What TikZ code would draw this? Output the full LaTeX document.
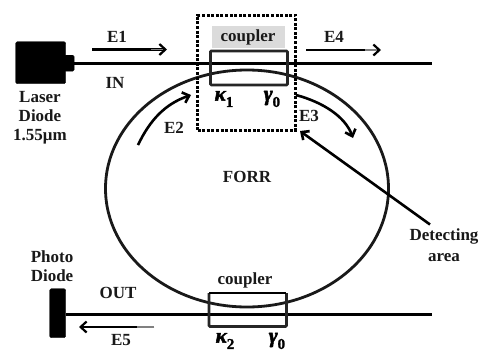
\documentclass[tikz,border=0pt]{standalone}
\usepackage{fontspec}
\setmainfont{Liberation Serif}
\newfontfamily\symf[BoldItalicFeatures={FakeBold=2.5}, BoldFeatures={FakeBold=1.5}]{Liberation Serif}
\usetikzlibrary{arrows.meta,shapes.geometric,calc}
\tikzset{
  lbl/.style={font=\fontsize{17}{19}\selectfont\bfseries, inner sep=0pt, text=black!90},
  sym/.style={font=\symf\fontsize{21}{22}\selectfont\bfseries\itshape, inner sep=0pt},
  fibre/.style={line width=3pt, black},
  boxline/.style={draw=black!85, line width=2.8pt, rounded corners=1pt, inner sep=0pt, fill=none},
  device/.style={fill=black, draw=black, rounded corners=1.5pt, inner sep=0pt},
  arr/.style={line width=2.2pt, -{Straight Barb[length=6pt,width=11pt,line width=2.2pt]}},
  curvearr/.style={line width=2.6pt, -{Straight Barb[length=6pt,width=11pt,line width=2.6pt]}},
}
\newcommand{\subs}[1]{\raisebox{-0.3em}{\fontsize{15}{15}\selectfont\upshape #1}}
\begin{document}
\begin{tikzpicture}[x=1pt,y=-1pt]
\useasboundingbox (0,0) rectangle (483,354);
\fill[white] (0,0) rectangle (483,354);
% gray label background
\node[fill=black!14, inner sep=0pt, anchor=north west, minimum width=73pt, minimum height=22pt] (grayback) at (212,26) {};
% ring
\node[draw=black!90, line width=2.8pt, ellipse, inner sep=0pt, minimum width=283pt, minimum height=237pt] (ring) at (247,188.5) {};
% devices
\node[device, anchor=north west, minimum width=50pt, minimum height=42pt] (laser) at (15.5,41.5) {};
\node[device, anchor=north west, minimum width=10pt, minimum height=16pt] (stub) at (64,55) {};
\node[device, anchor=north west, minimum width=16pt, minimum height=49pt] (pd) at (49.5,288.5) {};
% fibres
\coordinate (inend) at (432,63);
\coordinate (outend) at (432,314);
\coordinate (grayA) at (358,64.5);
\draw[black!50, line width=1.6pt] (grayA) -- (inend |- grayA);
\draw[fibre] (stub.east |- inend) -- (inend);
\draw[fibre] (pd.east |- outend) -- (outend);
% couplers
\node[boxline, anchor=north west, minimum width=77pt, minimum height=34pt] (c1) at (209,49.5) {};
\node[anchor=north west, inner sep=0pt, minimum width=77pt, minimum height=33pt] (c2) at (209,293) {};
\draw[boxline] (c2.north west) -- (c2.south west) -- (c2.south east) -- (c2.north east);
\draw[black, line width=1.5pt] (c2.north west) -- (c2.north east);
% detecting box
\node[draw=black, line width=3pt, dash pattern=on 3pt off 1.6pt, inner sep=0pt, anchor=north west, minimum width=98pt, minimum height=115pt] (det) at (196,13.5) {};
% straight arrows
\coordinate (e1a) at (92,49.5); \coordinate (e1b) at (167,49.5);
\coordinate (e4a) at (306,50); \coordinate (e4b) at (381,50);
\coordinate (e5a) at (154,327); \coordinate (e5b) at (79,327);
\draw[arr] (e1a) -- (e1b);
\draw[arr] (e4a) -- (e4b);
\draw[arr] (e5a) -- (e5b);
\draw[black!50, line width=2pt] (e5a) -- (137,327);
\draw[black!50, line width=1.2pt] (151,49.5) -- (163,49.5);
\draw[black!50, line width=1.2pt] (365,50) -- (377,50);
% curved arrows
\coordinate (e2a) at (138,145); \coordinate (e2b) at (191,95);
\coordinate (e3a) at (296,95); \coordinate (e3b) at (353,138);
\draw[curvearr] (e2a) .. controls (150,120) and (165,104) .. (e2b);
\draw[curvearr] (e3a) .. controls (322,102) and (345,116) .. (e3b);
% detecting pointer
\coordinate (dpa) at (430,224.5);
\coordinate (dpb) at (300,131);
\draw[curvearr] (dpa) -- (dpb);
% labels
\node[lbl] (te1) at (117,37) {E1};
\node[lbl] (tin) at (115,83) {IN};
\node[lbl] (te2) at (174,128) {E2};
\node[lbl] (te3) at (309,116) {E3};
\node[lbl] (te4) at (334,37) {E4};
\node[lbl] (te5) at (121,340) {E5};
\node[lbl] (tout) at (118,293) {OUT};
\node[lbl] (tforr) at (247,177) {FORR};
\node[lbl] (tc1) at (248,37) {coupler};
\node[lbl] (tc2) at (245,280) {coupler};
\node[lbl] (tl1) at (40,97) {Laser};
\node[lbl] (tl2) at (40,116) {Diode};
\node[lbl] (tl3) at (40,137) {1.55μm};
\node[lbl] (tp1) at (52,257) {Photo};
\node[lbl] (tp2) at (52,276) {Diode};
\node[lbl] (td1) at (444,236) {Detecting};
\node[lbl] (td2) at (444,258) {area};
\node[sym] (k1) at (224,99) {κ\subs{1}};
\node[sym] (g1) at (272,99) {γ\subs{0}};
\node[sym] (k2) at (225,341) {κ\subs{2}};
\node[sym] (g2) at (277,341) {γ\subs{0}};
\end{tikzpicture}
\end{document}
